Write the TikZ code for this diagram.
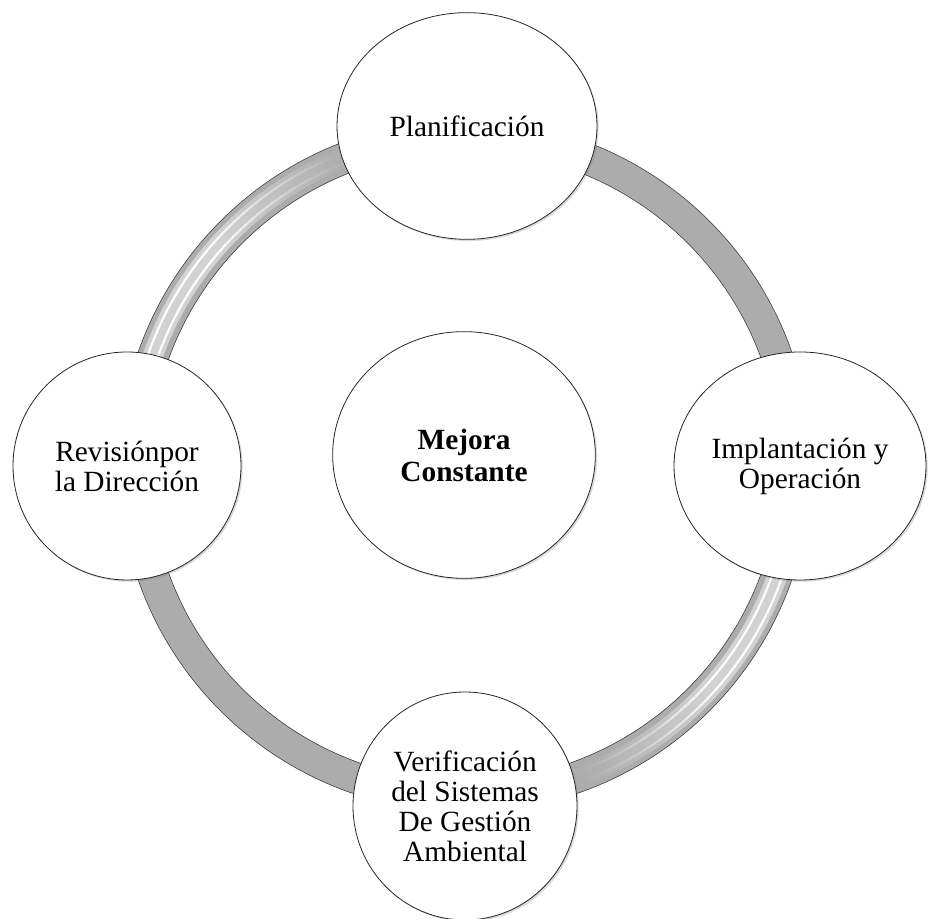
\documentclass[tikz,border=0pt]{standalone}
\usepackage{fontspec}
\setmainfont{Liberation Serif}
\usetikzlibrary{shapes,shadows}

\begin{document}
\begin{tikzpicture}[x=0.75pt,y=0.75pt]
	\def \cx{465}
	\def \cy{453}
	\def \rin{315}
	\def \rout{346}
	\tikzstyle{p-node}=[ellipse,draw=black!85,semithick,fill=white,inner sep=0pt,align=center,font=\fontsize{22}{22.5}\selectfont,drop shadow={shadow xshift=1.3pt,shadow yshift=-1.3pt,opacity=0.3}]
	\tikzstyle{c-node}=[p-node,font=\bfseries\fontsize{22}{24}\selectfont]
	\tikzstyle{ring}=[fill=gray!65,even odd rule,draw=black!80,thin]
	\tikzstyle{shine}=[line width=1.6pt]
	\useasboundingbox (0,0) rectangle (928,919);

	% ring
	\path[ring] (\cx,\cy) circle (\rout) (\cx,\cy) circle (\rin);
	\foreach \a in {0,1,...,59} {
		\pgfmathsetmacro{\band}{65-30*min(1,\a/28)}
		\pgfmathsetmacro{\lit}{65-65*min(1,\a/28)}
		\foreach \s in {110,290} {
			\pgfmathsetmacro{\b}{\s+\a}
			\draw[gray!\band,line width=15pt] (\cx,\cy) ++(\b:331) arc (\b:\b+1.3:331);
			\draw[shine,gray!\lit] (\cx,\cy) ++(\b:326) arc (\b:\b+1.3:326);
			\draw[shine,gray!\lit] (\cx,\cy) ++(\b:336) arc (\b:\b+1.3:336);
		}
	}

	% phases
	\node[p-node,minimum width=195pt,minimum height=170pt] (plan)  at (467,793) {Planificación};
	\node[p-node,minimum width=189pt,minimum height=171pt] (impl)  at (800,453) {Implantación y\\Operación};
	\node[p-node,minimum width=168pt,minimum height=171pt] (verif) at (465,113) {Verificación\\del Sistemas\\De Gestión\\Ambiental};
	\node[p-node,minimum width=171pt,minimum height=171pt] (rev)   at (127,453) {Revisiónpor\\la Dirección};

	% center
	\node[c-node,minimum width=197pt,minimum height=185pt] (mejora) at (464,464) {Mejora\\Constante};
\end{tikzpicture}
\end{document}
